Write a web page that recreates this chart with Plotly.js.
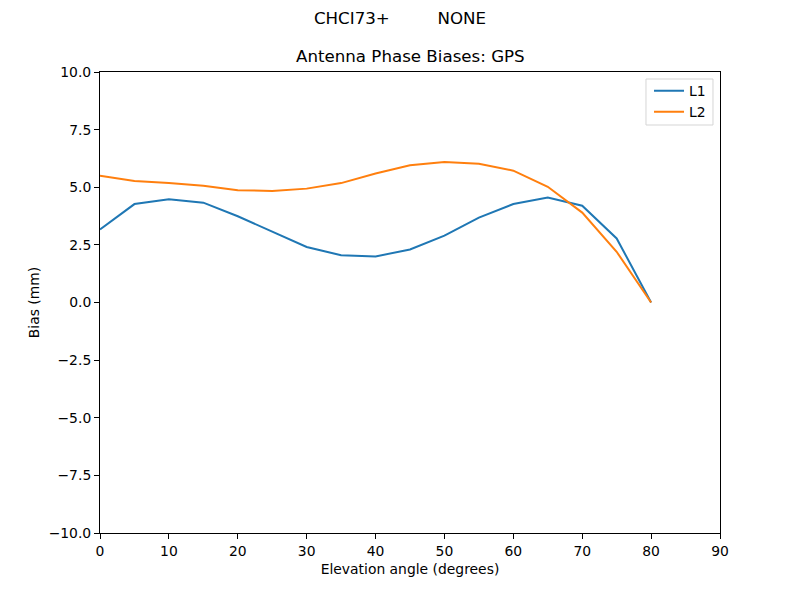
<!DOCTYPE html>
<html>
<head>
<meta charset="utf-8">
<script src="https://cdn.plot.ly/plotly-3.0.1.min.js"></script>
<style>
  body { margin: 0; background: #fff; }
  #mainPlot { width: 800px; height: 600px; }
</style>
</head>
<body>
<div id="mainPlot"></div>
<script>
// Elevation angles (degrees) and the phase biases (mm)
const elevation = [0, 5, 10, 15, 20, 25, 30, 35, 40, 45, 50, 55, 60, 65, 70, 75, 80];
const biasL1 = [3.17, 4.27, 4.48, 4.33, 3.74, 3.06, 2.41, 2.05, 2.0, 2.3, 2.9, 3.68, 4.27, 4.55, 4.2, 2.78, 0.0];
const biasL2 = [5.5, 5.27, 5.18, 5.07, 4.87, 4.84, 4.94, 5.18, 5.6, 5.95, 6.1, 6.02, 5.72, 5.02, 3.9, 2.2, 0.0];

const yTicks = [-10, -7.5, -5, -2.5, 0, 2.5, 5, 7.5, 10];
const yTickText = ['\u221210.0', '\u22127.5', '\u22125.0', '\u22122.5', '0.0', '2.5', '5.0', '7.5', '10.0'];

const font = {family: 'DejaVu Sans', size: 13.9, color: '#000'};
const bigFont = {family: 'DejaVu Sans', size: 16.67, color: '#000'};

let data = [
  {x: elevation, y: biasL1, type: 'scatter', mode: 'lines', name: 'L1',
   line: {color: '#1f77b4', width: 2}},
  {x: elevation, y: biasL2, type: 'scatter', mode: 'lines', name: 'L2',
   line: {color: '#ff7f0e', width: 2}}
];

// axis setup to look like matplotlib defaults
let axisCommon = {
  showline: true, mirror: true, linecolor: '#000', linewidth: 1,
  ticks: 'outside', ticklen: 5, tickcolor: '#000', tickwidth: 1,
  showgrid: false, zeroline: false, tickfont: font
};

var layout = {
  width: 800,
  height: 600,
  margin: {l: 100, r: 80, t: 72, b: 67},
  paper_bgcolor: '#fff',
  plot_bgcolor: '#fff',
  font: font,
  // figure-level title, centred on the whole figure
  title: {text: 'CHCI73+         NONE', font: bigFont,
          x: 0.5, xref: 'container', y: 0.97, yref: 'container', yanchor: 'middle'},
  annotations: [{
    text: 'Antenna Phase Biases: GPS', xref: 'paper', yref: 'paper', x: 0.5, y: 1,
    yanchor: 'bottom', yshift: 4, showarrow: false, font: bigFont
  }],
  // legend frame drawn separately so the padding matches
  shapes: [{
    type: 'rect', xref: 'paper', yref: 'paper',
    x0: 0.8806, x1: 0.9887, y0: 0.885, y1: 0.9848,
    line: {color: '#d5d5d5', width: 1}, fillcolor: 'rgba(255,255,255,0.8)', layer: 'below'
  }],
  xaxis: Object.assign({}, axisCommon, {
    range: [0, 90], tickvals: [0, 10, 20, 30, 40, 50, 60, 70, 80, 90],
    title: {text: 'Elevation angle (degrees)', font: font, standoff: 6}
  }),
  yaxis: Object.assign({}, axisCommon, {
    range: [-10, 10], tickvals: yTicks, ticktext: yTickText,
    title: {text: 'Bias (mm)', font: font, standoff: 5}
  }),
  legend: {
    x: 0.8855, y: 0.993, xanchor: 'left', yanchor: 'top',
    bgcolor: 'rgba(0,0,0,0)', borderwidth: 0, itemwidth: 30,
    font: font, tracegroupgap: 0
  },
  showlegend: true
};

Plotly.newPlot('mainPlot', data, layout, {displayModeBar: false, staticPlot: true});
</script>
</body>
</html>
